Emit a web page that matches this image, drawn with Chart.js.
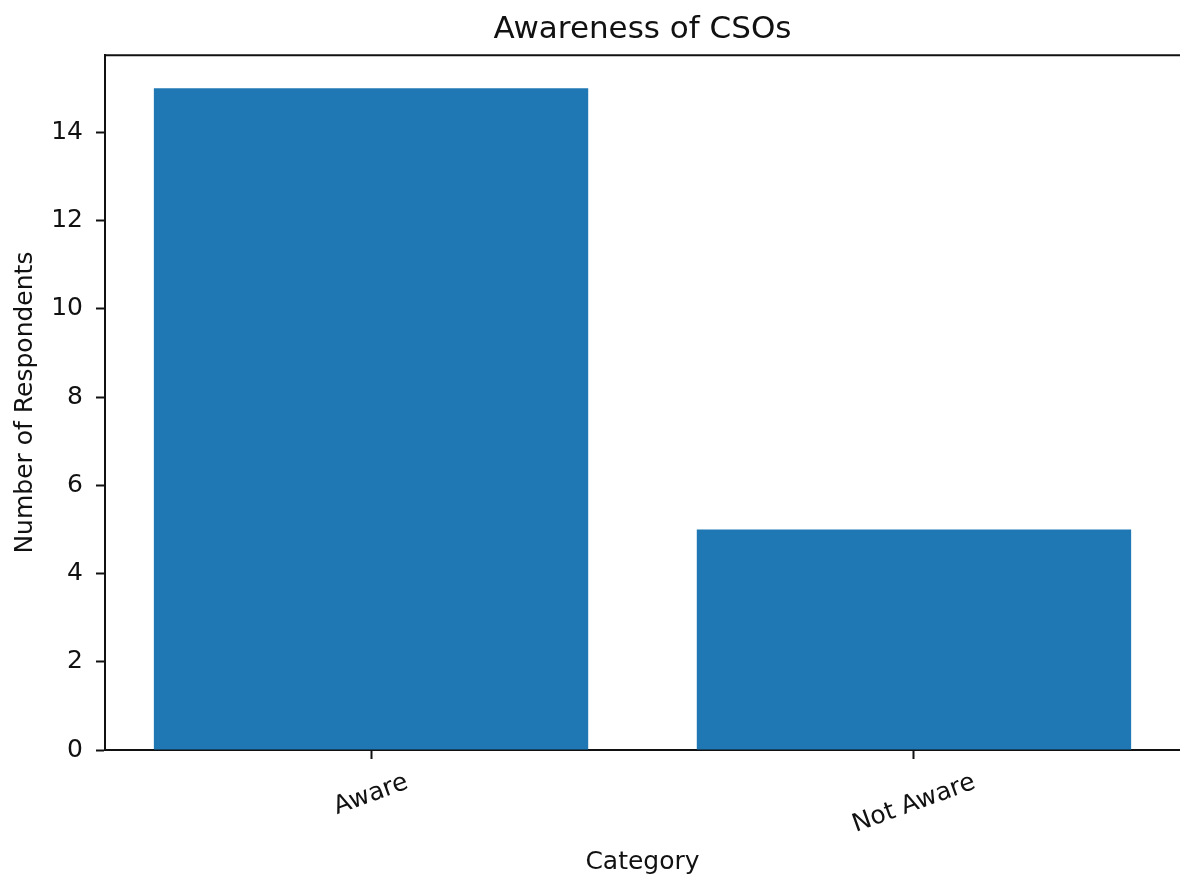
<!DOCTYPE html>
<html>
<head>
<meta charset="utf-8">
<script src="https://cdn.jsdelivr.net/npm/chart.js@4.4.1/dist/chart.umd.min.js"></script>
<style>
  body { margin: 0; background: #fff; }
  canvas { display: block; }
</style>
</head>
<body>
<canvas id="awareness" width="1180" height="880"></canvas>
<script>
const categories = ['Aware', 'Not Aware'];
const respondents = [15, 5];
const yTicks = [0, 2, 4, 6, 8, 10, 12, 14];

const FONT = "'DejaVu Sans', sans-serif";
const INK = '#111';

// top spine + rotated category labels (matplotlib-style, centred on tick)
const framePlugin = {
    id: 'frame',
    afterDraw(chart) {
        const ctx = chart.ctx;
        const area = chart.chartArea;
        const xs = chart.scales.x;
        ctx.save();
        ctx.strokeStyle = INK;
        ctx.lineWidth = 2;
        ctx.beginPath();
        ctx.moveTo(area.left, area.top);
        ctx.lineTo(area.right, area.top);
        ctx.stroke();

        ctx.font = '25px ' + FONT;
        ctx.fillStyle = INK;
        ctx.textAlign = 'center';
        ctx.textBaseline = 'middle';
        const angle = 20 * Math.PI / 180;
        xs.ticks.forEach(function(t) {
            const label = categories[t.value];
            const w = ctx.measureText(label).width;
            const h = 25;
            const boxH = w * Math.sin(angle) + h * Math.cos(angle);
            const cx = xs.getPixelForValue(t.value);
            const cy = area.bottom + 20 + boxH / 2;
            ctx.save();
            ctx.translate(cx, cy);
            ctx.rotate(-angle);
            ctx.fillText(label, 0, 0);
            ctx.restore();
        });
        ctx.restore();
    }
};

const ctx = document.getElementById('awareness').getContext('2d');
const awarenessChart = new Chart(ctx, {
    type: 'bar',
    data: {
        datasets: [{
            label: 'Respondents',
            data: categories.map(function(c, i) { return { x: i, y: respondents[i] }; }),
            backgroundColor: '#1f77b4',
            borderWidth: 0,
            barPercentage: 0.8,
            categoryPercentage: 1.0
        }]
    },
    options: {
        responsive: false,
        animation: false,
        layout: { padding: 0 },
        plugins: {
            legend: { display: false },
            tooltip: { enabled: false },
            title: {
                display: true,
                text: 'Awareness of CSOs',
                fullSize: false,
                color: INK,
                font: { family: FONT, size: 31, weight: 'normal', lineHeight: 1.2 },
                padding: { top: 11, bottom: 7 }
            }
        },
        scales: {
            x: {
                type: 'linear',
                min: -0.49,
                max: 1.49,
                offset: false,
                afterBuildTicks: function(scale) {
                    scale.ticks = categories.map(function(c, i) { return { value: i }; });
                },
                afterFit: function(scale) { scale.height = 130; },
                grid: {
                    offset: false,
                    drawOnChartArea: false,
                    drawTicks: true,
                    tickLength: 9,
                    tickWidth: 2,
                    tickColor: INK
                },
                border: { display: true, color: INK, width: 2 },
                ticks: { display: false },
                title: {
                    display: true,
                    text: 'Category',
                    color: INK,
                    font: { family: FONT, size: 25, lineHeight: 1.2 },
                    padding: { top: 0, bottom: 3 }
                }
            },
            y: {
                min: 0,
                max: 15.75,
                afterBuildTicks: function(scale) {
                    scale.ticks = yTicks.map(function(v) { return { value: v }; });
                },
                afterFit: function(scale) { scale.width = 105; },
                grid: {
                    drawOnChartArea: false,
                    drawTicks: true,
                    tickLength: 9,
                    tickWidth: 2,
                    tickColor: INK
                },
                border: { display: true, color: INK, width: 2 },
                ticks: {
                    color: INK,
                    padding: 13,
                    font: { family: FONT, size: 25 }
                },
                title: {
                    display: true,
                    text: 'Number of Respondents',
                    color: INK,
                    font: { family: FONT, size: 25, lineHeight: 1.2 },
                    padding: { top: 10, bottom: 0 }
                }
            }
        }
    },
    plugins: [framePlugin]
});
</script>
</body>
</html>
